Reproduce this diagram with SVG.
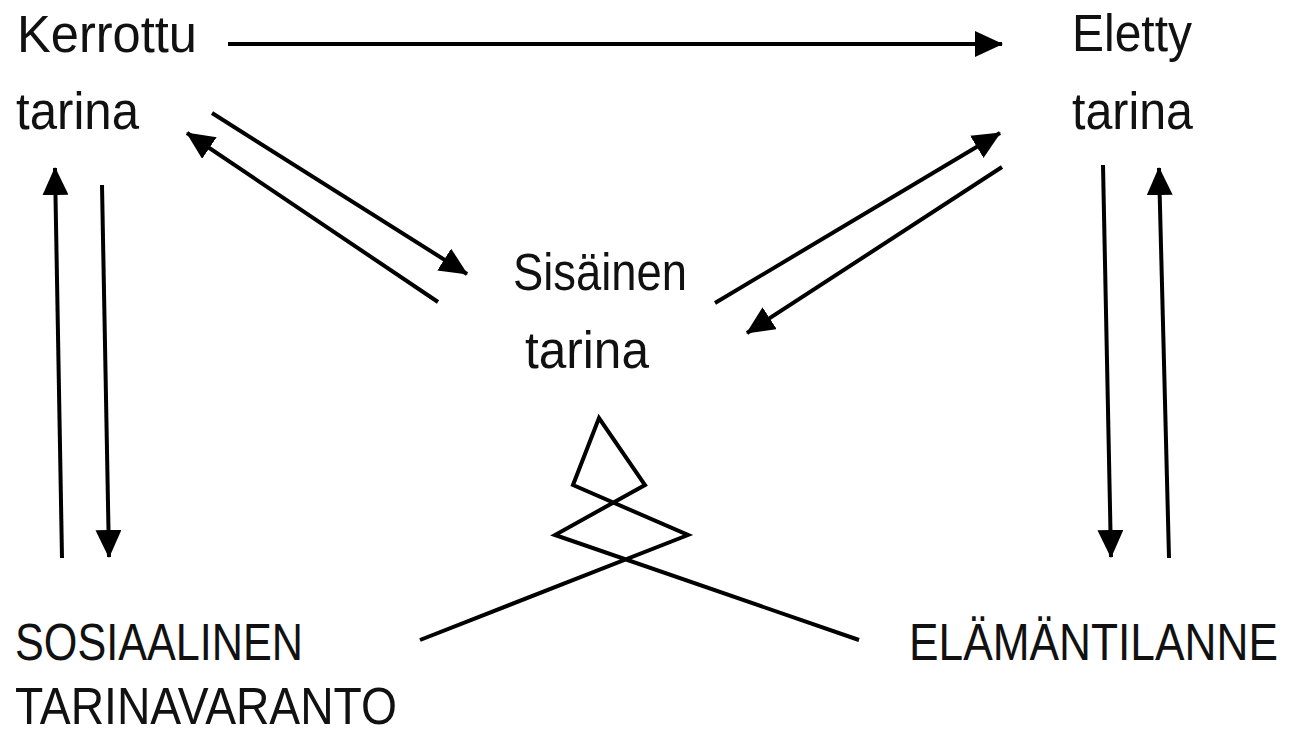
<svg xmlns="http://www.w3.org/2000/svg" width="1289" height="735" viewBox="0 0 1289 735">
<style>
text{font-family:"Liberation Sans",Arial,sans-serif;font-size:51px;fill:#111}
.c line,.c polyline{stroke:#000;stroke-width:4;fill:none}
.c line{marker-end:url(#ah)}
</style>
<defs>
<marker id="ah" markerUnits="userSpaceOnUse" viewBox="0 0 28 26" refX="27" refY="13" markerWidth="28" markerHeight="26" orient="auto">
<path d="M0,0 L28,13 L0,26 Z" fill="#000"/>
</marker>
</defs>
<rect width="1289" height="735" fill="#fff"/>
<g id="kerrottu"><text x="17" y="52" textLength="180" lengthAdjust="spacingAndGlyphs">Kerrottu</text><text x="16" y="129" textLength="123" lengthAdjust="spacingAndGlyphs">tarina</text></g>
<g id="eletty"><text x="1072" y="51" textLength="120" lengthAdjust="spacingAndGlyphs">Eletty</text><text x="1072" y="129" textLength="121" lengthAdjust="spacingAndGlyphs">tarina</text></g>
<g id="sisainen"><text x="513" y="290" textLength="174" lengthAdjust="spacingAndGlyphs">Sisäinen</text><text x="525" y="368" textLength="124" lengthAdjust="spacingAndGlyphs">tarina</text></g>
<g id="sosiaalinen"><text x="15" y="660" textLength="288" lengthAdjust="spacingAndGlyphs">SOSIAALINEN</text><text x="15" y="724" textLength="382" lengthAdjust="spacingAndGlyphs">TARINAVARANTO</text></g>
<g id="elamantilanne"><text transform="translate(909,660) scale(0.868,1)" x="0" y="0">ELÄMÄNTILANNE</text></g>
<g id="connectors" class="c">
<line x1="228" y1="44" x2="1002" y2="44"/>
<line x1="212" y1="113" x2="467" y2="274"/>
<line x1="438" y1="302" x2="187" y2="133"/>
<line x1="715" y1="303" x2="1000" y2="133"/>
<line x1="1002" y1="167" x2="747" y2="333"/>
<line x1="62" y1="558" x2="55" y2="168"/>
<line x1="102" y1="185" x2="109" y2="557"/>
<line x1="1103" y1="165" x2="1111" y2="557"/>
<line x1="1169" y1="558" x2="1159" y2="168"/>
<polyline points="420,640 688,535 573,485 599,418 645,485 555,535 859,640" stroke-linejoin="miter"/>
</g>
</svg>
